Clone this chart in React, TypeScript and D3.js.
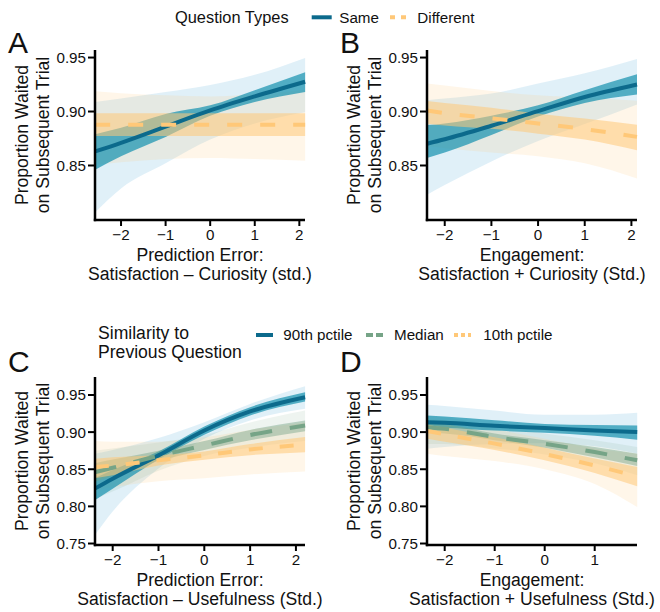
import React, { useEffect } from 'react';
import * as d3 from 'd3';

const FONT = "'Liberation Sans', Arial, Helvetica, sans-serif";

// colours
const TEAL = '#0c6a8c';
const TEAL_BAND = '#1993b0';
const TEAL_OUTER = '#8ecae6';
const GREEN = '#76a487';
const ORANGE = '#ffc878';

// ---- Panel A: prediction error (curiosity), question types ----
const xA = [-2.58, -2, -1, 0, 1, 2.13];
const aSameFit = [0.863, 0.871, 0.886, 0.901, 0.914, 0.9276];
const aSameInner = [[0.846, 0.879], [0.8585, 0.885], [0.8764, 0.8978], [0.896, 0.9057], [0.9088, 0.9198], [0.918, 0.9364]];
const aSameOuter = [[0.8067, 0.9088], [0.8287, 0.912], [0.852, 0.918], [0.874, 0.9245], [0.889, 0.934], [0.8994, 0.9497]];
const aDiffFit = [0.8878, 0.8878, 0.8878, 0.8878, 0.8878, 0.8878];
const aDiffInner = [[0.8774, 0.8984], [0.8774, 0.8984], [0.8774, 0.8984], [0.8774, 0.8984], [0.8774, 0.8984], [0.8774, 0.8984]];
const aDiffOuter = [[0.8507, 0.9188], [0.853, 0.917], [0.856, 0.915], [0.857, 0.914], [0.856, 0.916], [0.8545, 0.92]];

// ---- Panel B: engagement (curiosity), question types ----
const xB = [-2.38, -2, -1, 0, 1, 2.12];
const bSameFit = [0.8702, 0.8743, 0.8868, 0.9003, 0.9135, 0.9251];
const bSameInner = [[0.857, 0.8874], [0.862, 0.889], [0.8783, 0.8962], [0.8953, 0.9057], [0.9079, 0.9198], [0.9157, 0.9345]];
const bSameOuter = [[0.823, 0.9104], [0.832, 0.912], [0.8538, 0.9166], [0.8727, 0.926], [0.8884, 0.9355], [0.9066, 0.9487]];
const bDiffFit = [0.901, 0.8985, 0.8937, 0.889, 0.8837, 0.8765];
const bDiffInner = [[0.889, 0.9097], [0.887, 0.908], [0.884, 0.9035], [0.8795, 0.898], [0.874, 0.8935], [0.8642, 0.8878]];
const bDiffOuter = [[0.868, 0.926], [0.866, 0.924], [0.862, 0.919], [0.8585, 0.915], [0.852, 0.913], [0.838, 0.91]];

// ---- Panel C: prediction error (usefulness), similarity ----
const xC = [-2.39, -2, -1, 0, 1, 2.2];
const c90Fit = [0.8239, 0.8373, 0.8687, 0.9022, 0.9278, 0.947];
const c90Inner = [[0.8082, 0.8382], [0.8237, 0.849], [0.863, 0.874], [0.8964, 0.9076], [0.9224, 0.9336], [0.9412, 0.9537]];
const c90Outer = [[0.761, 0.871], [0.793, 0.876], [0.851, 0.892], [0.891, 0.9134], [0.9157, 0.938], [0.9313, 0.9618]];
const cMedFit = [0.846, 0.852, 0.868, 0.882, 0.896, 0.909];
const cMedInner = [[0.833, 0.858], [0.841, 0.863], [0.861, 0.875], [0.876, 0.888], [0.889, 0.903], [0.9013, 0.9157]];
const cMedOuter = [[0.81, 0.875], [0.82, 0.878], [0.848, 0.886], [0.868, 0.896], [0.879, 0.913], [0.888, 0.929]];
const c10Fit = [0.853, 0.855, 0.862, 0.8687, 0.8767, 0.883];
const c10Inner = [[0.838, 0.864], [0.842, 0.866], [0.855, 0.869], [0.8628, 0.874], [0.869, 0.884], [0.873, 0.8933]];
const c10Outer = [[0.8217, 0.888], [0.826, 0.887], [0.834, 0.887], [0.838, 0.893], [0.843, 0.903], [0.847, 0.913]];

// ---- Panel D: engagement (usefulness), similarity ----
const xD = [-2.35, -2, -1, 0, 1, 1.85];
const d90Fit = [0.9134, 0.9125, 0.9085, 0.9054, 0.9022, 0.9];
const d90Inner = [[0.9067, 0.9224], [0.906, 0.921], [0.902, 0.916], [0.899, 0.911], [0.895, 0.9095], [0.8897, 0.909]];
const d90Outer = [[0.8776, 0.9367], [0.88, 0.935], [0.884, 0.929], [0.885, 0.9233], [0.881, 0.9235], [0.871, 0.926]];
const dMedFit = [0.9067, 0.9045, 0.8933, 0.8843, 0.8731, 0.862];
const dMedInner = [[0.899, 0.9134], [0.898, 0.911], [0.889, 0.898], [0.879, 0.889], [0.866, 0.88], [0.8543, 0.871]];
const dMedOuter = [[0.884, 0.922], [0.884, 0.92], [0.878, 0.909], [0.87, 0.898], [0.858, 0.889], [0.842, 0.88]];
const d10Fit = [0.9015, 0.897, 0.8845, 0.8705, 0.855, 0.8405];
const d10Inner = [[0.891, 0.9098], [0.887, 0.906], [0.876, 0.893], [0.862, 0.879], [0.845, 0.8645], [0.827, 0.853]];
const d10Outer = [[0.871, 0.918], [0.868, 0.916], [0.861, 0.904], [0.85, 0.891], [0.83, 0.878], [0.799, 0.871]];

const ticksAB = [0.85, 0.9, 0.95];
const ticksCD = [0.75, 0.8, 0.85, 0.9, 0.95];
const xTicks = [-2, -1, 0, 1, 2];
const xTicksD = [-2, -1, 0, 1];

const typeLabels = ['Same', 'Different'];
const simLabels = ['90th pctile', 'Median', '10th pctile'];

const styles = {
  teal: { line: TEAL, inner: TEAL_BAND, innerOp: 0.72, outer: TEAL_OUTER, outerOp: 0.28, dash: null },
  orange: { line: ORANGE, inner: ORANGE, innerOp: 0.55, outer: ORANGE, outerOp: 0.16, dash: '15,18' },
  green: { line: GREEN, inner: GREEN, innerOp: 0.45, outer: GREEN, outerOp: 0.12, dash: '22,18' },
  orange2: { line: ORANGE, inner: ORANGE, innerOp: 0.55, outer: ORANGE, outerOp: 0.16, dash: '14,17' },
};

const Panel = ({ left, top, width, height, xs, xDomain, yDomain, yTicks, xTickVals, series, letter, letterY, xTitle }) => {
  const x = d3.scaleLinear().domain(xDomain).range([left, left + width]);
  const y = d3.scaleLinear().domain(yDomain).range([top + height, top]);
  const fmtY = d3.format('.2f');

  const band = (arr) =>
    d3.area().x((d, i) => x(xs[i])).y0(d => y(d[0])).y1(d => y(d[1])).curve(d3.curveMonotoneX)(arr);
  const line = (arr) =>
    d3.line().x((d, i) => x(xs[i])).y(d => y(d)).curve(d3.curveMonotoneX)(arr);

  const midY = top + height / 2;
  const midX = left + width / 2;
  return (
    <g fontFamily={FONT}>
      {series.map((s, i) => (
        <path key={'o' + i} d={band(s.outer)} fill={s.st.outer} fillOpacity={s.st.outerOp} />
      ))}
      {series.map((s, i) => (
        <path key={'i' + i} d={band(s.inner)} fill={s.st.inner} fillOpacity={s.st.innerOp} />
      ))}
      {series.map((s, i) => (
        <path key={'l' + i} d={line(s.fit)} fill="none" stroke={s.st.line} strokeWidth={4}
          strokeDasharray={s.st.dash || undefined} />
      ))}
      {/* axes */}
      <line x1={left} x2={left} y1={top} y2={top + height + 1.2} stroke="#000" strokeWidth={2.5} />
      <line x1={left - 1.2} x2={left + width} y1={top + height} y2={top + height} stroke="#000" strokeWidth={2.5} />
      {yTicks.map(t => (
        <g key={'y' + t}>
          <line x1={left - 7} x2={left} y1={y(t)} y2={y(t)} stroke="#000" strokeWidth={2} />
          <text x={left - 9} y={y(t)} dy="0.36em" textAnchor="end" fontSize={15.2} fill="#111">{fmtY(t)}</text>
        </g>
      ))}
      {xTickVals.map(t => (
        <g key={'x' + t}>
          <line x1={x(t)} x2={x(t)} y1={top + height} y2={top + height + 6} stroke="#000" strokeWidth={2} />
          <text x={x(t)} y={top + height + 19.5} textAnchor="middle" fontSize={15.2} fill="#111">{d3.format('d')(t)}</text>
        </g>
      ))}
      <text x={left - 87} y={letterY} fontSize={30} fill="#111" style={{ letterSpacing: '-0.5px' }}>{letter}</text>
      <text transform={`translate(${left - 67.5},${midY}) rotate(-90)`} textAnchor="middle" fontSize={17.6} fill="#111">Proportion Waited</text>
      <text transform={`translate(${left - 46},${midY}) rotate(-90)`} textAnchor="middle" fontSize={17.6} fill="#111">on Subsequent Trial</text>
      <text x={midX} y={top + height + 40.7} textAnchor="middle" fontSize={17.6} fill="#111">{xTitle[0]}</text>
      <text x={midX} y={top + height + 59.5} textAnchor="middle" fontSize={17.6} fill="#111">{xTitle[1]}</text>
    </g>
  );
};

const App = () => {
  useEffect(() => {
    document.body.style.margin = '0';
  }, []);

  const yAB = [0.7995, 0.957];
  const yCD = [0.748, 0.9742];

  return (
    <svg width={660} height={612} style={{ position: 'absolute', left: 0, top: 0, background: '#fff' }}>
      <rect width={660} height={612} fill="#fff" />
      {/* top legend */}
      <g fontFamily={FONT} fill="#111">
        <text x={175} y={22.7} fontSize={16.4}>Question Types</text>
        <line x1={311.7} x2={331.7} y1={17.3} y2={17.3} stroke={TEAL} strokeWidth={4} />
        <text x={339.3} y={22.5} fontSize={15.2}>{typeLabels[0]}</text>
        <line x1={390} x2={406.5} y1={17.3} y2={17.3} stroke={ORANGE} strokeWidth={4} strokeDasharray="5,6" />
        <text x={417.3} y={22.5} fontSize={15.2}>{typeLabels[1]}</text>
      </g>
      <Panel left={95} top={50} width={210} height={170} xs={xA} xDomain={[-2.584, 2.127]} yDomain={yAB}
        yTicks={ticksAB} xTickVals={xTicks} letter="A" letterY={53.3}
        xTitle={['Prediction Error:', 'Satisfaction – Curiosity (std.)']}
        series={[
          { fit: aSameFit, inner: aSameInner, outer: aSameOuter, st: styles.teal },
          { fit: aDiffFit, inner: aDiffInner, outer: aDiffOuter, st: styles.orange },
        ]} />
      <Panel left={427} top={50} width={210} height={170} xs={xB} xDomain={[-2.38, 2.12]} yDomain={yAB}
        yTicks={ticksAB} xTickVals={xTicks} letter="B" letterY={53.3}
        xTitle={['Engagement:', 'Satisfaction + Curiosity (Std.)']}
        series={[
          { fit: bSameFit, inner: bSameInner, outer: bSameOuter, st: styles.teal },
          { fit: bDiffFit, inner: bDiffInner, outer: bDiffOuter, st: styles.orange },
        ]} />
      {/* middle legend */}
      <g fontFamily={FONT} fill="#111">
        <text x={98} y={339.3} fontSize={17.6}>Similarity to</text>
        <text x={98} y={358.3} fontSize={17.6}>Previous Question</text>
        <line x1={256} x2={273} y1={335} y2={335} stroke={TEAL} strokeWidth={4} />
        <text x={283.3} y={339.5} fontSize={15.2}>{simLabels[0]}</text>
        <line x1={366} x2={383} y1={335} y2={335} stroke={GREEN} strokeWidth={4} strokeDasharray="7,3" />
        <text x={394} y={339.5} fontSize={15.2}>{simLabels[1]}</text>
        <line x1={454} x2={471} y1={335} y2={335} stroke={ORANGE} strokeWidth={4} strokeDasharray="4,3" />
        <text x={483.3} y={339.5} fontSize={15.2}>{simLabels[2]}</text>
      </g>
      <Panel left={95} top={377} width={210} height={168} xs={xC} xDomain={[-2.386, 2.198]} yDomain={yCD}
        yTicks={ticksCD} xTickVals={xTicks} letter="C" letterY={371.7}
        xTitle={['Prediction Error:', 'Satisfaction – Usefulness (Std.)']}
        series={[
          { fit: c90Fit, inner: c90Inner, outer: c90Outer, st: styles.teal },
          { fit: cMedFit, inner: cMedInner, outer: cMedOuter, st: styles.green },
          { fit: c10Fit, inner: c10Inner, outer: c10Outer, st: styles.orange2 },
        ]} />
      <Panel left={427} top={377} width={210} height={168} xs={xD} xDomain={[-2.354, 1.846]} yDomain={yCD}
        yTicks={ticksCD} xTickVals={xTicksD} letter="D" letterY={371.7}
        xTitle={['Engagement:', 'Satisfaction + Usefulness (Std.)']}
        series={[
          { fit: d90Fit, inner: d90Inner, outer: d90Outer, st: styles.teal },
          { fit: dMedFit, inner: dMedInner, outer: dMedOuter, st: styles.green },
          { fit: d10Fit, inner: d10Inner, outer: d10Outer, st: styles.orange2 },
        ]} />
    </svg>
  );
};

export default App;
